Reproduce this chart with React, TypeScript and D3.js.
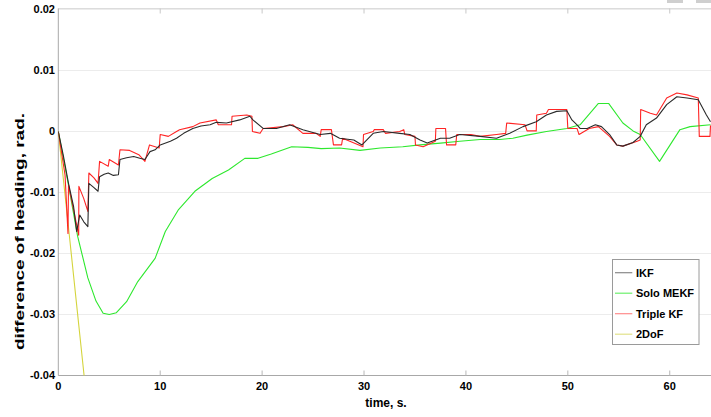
import React from 'react';
import * as d3 from 'd3';

type Pt = [number, number];

// values, [time s, heading difference rad]
const ikfData: Pt[] = [
  [0, 0], [0.5, -0.004], [1, -0.0085], [1.5, -0.0123], [1.8, -0.0164], [2.1, -0.0137], [2.5, -0.0148],
  [2.9, -0.0156], [3.0, -0.0085], [3.5, -0.0092], [3.9, -0.0098], [4.05, -0.0074], [4.5, -0.007],
  [4.9, -0.0068], [5.4, -0.0072], [5.9, -0.0071], [6.05, -0.0046], [6.7, -0.0043], [7.4, -0.0041],
  [8, -0.0044], [8.5, -0.0046], [9, -0.0033], [9.5, -0.003], [10, -0.0022], [11, -0.0016],
  [11.6, -0.0011], [12.3, -0.0003], [13.2, 0.0005], [14, 0.0009], [14.9, 0.0011], [15.5, 0.0015],
  [16.5, 0.0014], [17.8, 0.0019], [18.8, 0.0025], [19.1, 0.0019], [20.1, 0.0005], [21.4, 0.0005],
  [22.7, 0.0011], [24, 0.0003], [25.7, -0.0005], [26.7, -0.0003], [27.6, -0.0011], [29, -0.0014],
  [29.8, -0.0022], [30.9, -0.0003], [31.9, 0], [33.5, -0.0003], [34.5, -0.0005], [35.5, -0.0014],
  [36.2, -0.0019], [37.5, -0.0011], [38.4, -0.0011], [39.4, -0.0005], [41.4, -0.0008], [43, -0.0011],
  [44.3, -0.0003], [45.6, 0.0008], [46.9, 0.0016], [47.9, 0.0027], [48.9, 0.0033], [49.9, 0.0034],
  [50.4, 0.0019], [50.9, 0.0011], [51.2, 0.0005], [51.9, 0.0005], [52.7, 0.0011], [53.3, 0.0008],
  [54.1, -0.0005], [54.8, -0.0022], [55.4, -0.0024], [56.4, -0.0018], [57.1, -0.0008], [57.7, 0.0011],
  [58.7, 0.0022], [59.7, 0.0044], [60.7, 0.0057], [61.7, 0.0055], [62.8, 0.0052], [63.6, 0.0027],
  [64, 0.0016],
];

const soloMekfData: Pt[] = [
  [0, 0], [1, -0.0088], [1.9, -0.0172], [2.9, -0.024], [3.7, -0.0278], [4.4, -0.0298], [5, -0.03],
  [5.7, -0.0297], [6.7, -0.0279], [7.8, -0.0246], [9.5, -0.0208], [10.5, -0.0164], [11.8, -0.0128],
  [13.4, -0.0098], [15.1, -0.0077], [16.7, -0.0063], [18.3, -0.0044], [19.6, -0.0044], [20.9, -0.0037],
  [22.9, -0.0025], [24.5, -0.0026], [25.8, -0.0028], [27.6, -0.0027], [29.6, -0.0031], [31.6, -0.0027],
  [33.8, -0.0025], [35.5, -0.0022], [37.5, -0.0019], [39.4, -0.0016], [41.4, -0.0013], [43.3, -0.0013],
  [44.6, -0.0011], [46, -0.0006], [47.9, 0], [49.9, 0.0005], [51.2, 0.0011], [53, 0.0046], [54, 0.0046],
  [55.4, 0.0014], [56.4, 0.0001], [57.1, -0.0005], [59, -0.0049], [61, 0.0003], [62, 0.0008], [64, 0.0011],
];

const tripleKfData: Pt[] = [
  [0, 0], [0.66, -0.0071], [0.95, -0.0167], [1.0, -0.0088], [1.5, -0.0128], [2.0, -0.017], [2.02, -0.009],
  [2.5, -0.011], [2.9, -0.0131], [3.0, -0.0068], [3.5, -0.0076], [3.9, -0.0085], [4.05, -0.0049],
  [4.9, -0.0057], [5.0, -0.0046], [5.9, -0.0055], [6.05, -0.003], [7, -0.0031], [7.9, -0.0038],
  [8.5, -0.0049], [8.95, -0.0022], [9.9, -0.0027], [10, -0.0005], [10.8, -0.0008], [11.6, 0],
  [11.9, 0.0003], [13.2, 0.0008], [13.9, 0.0014], [15.5, 0.0019], [15.7, 0.0011], [17, 0.0011],
  [17.05, 0.0025], [18.5, 0.0027], [19, 0.0025], [19.05, 0], [19.8, -0.0003], [20.1, 0.0005],
  [22.1, 0.0008], [23, 0.0011], [24, -0.0003], [25.3, -0.0003], [25.7, -0.0008], [25.8, 0.0003],
  [26.8, 0.0003], [27, -0.0022], [27.8, -0.0022], [27.9, -0.0011], [29.9, -0.0025], [29.95, -0.0005],
  [30.9, 0], [31, 0.0003], [31.9, 0.0003], [32.1, -0.0003], [33.5, 0], [33.9, 0.0003], [34, -0.0005],
  [35, -0.0008], [35.05, -0.0022], [35.8, -0.0025], [37, -0.0016], [37.05, 0.0005], [38, 0.0005],
  [38.1, -0.0022], [39, -0.0022], [39.1, -0.0005], [40.5, -0.0005], [41.4, -0.0008], [43, -0.0005],
  [43.9, -0.0003], [44, 0.0014], [45.8, 0.0011], [46, 0.0001], [46.9, 0.0001], [46.95, 0.0027],
  [47.9, 0.003], [48.1, 0.0036], [49.9, 0.0036], [50, 0.0005], [50.9, 0.0005], [51.1, -0.0005],
  [52.1, 0.0005], [53, 0.0008], [54.1, -0.0008], [54.8, -0.0022], [55.4, -0.0024], [56.8, -0.0016],
  [57.1, -0.0014], [57.15, 0.0036], [58.1, 0.003], [58.7, 0.0027], [59.7, 0.0055], [60.7, 0.0063],
  [61.7, 0.006], [62.8, 0.0055], [62.9, -0.0008], [63.95, -0.0008], [64, 0.001],
];

const twoDofData: Pt[] = [[0, 0], [1, -0.0157], [2, -0.0316], [2.6, -0.0411]];

const xTicks = [0, 10, 20, 30, 40, 50, 60];
const yTicks = [0.02, 0.01, 0, -0.01, -0.02, -0.03, -0.04];
const yTickLabels = ['0.02', '0.01', '0', '-0.01', '-0.02', '-0.03', '-0.04'];

const series = [
  { name: 'IKF', data: ikfData, color: '#2a2a2a', legend: '#8a8a8a' },
  { name: 'Solo MEKF', data: soloMekfData, color: '#2ee82e', legend: '#6cf06c' },
  { name: 'Triple KF', data: tripleKfData, color: '#ff2424', legend: '#ff8c8c' },
  { name: '2DoF', data: twoDofData, color: '#d4d43c', legend: '#e2e28a' },
];

const W = 711;
const H = 417;
const left = 58.3;
const right = 710.5;
const top = 9.5;
const bottom = 375.5;

const font = '"Liberation Sans", Arial, sans-serif';

export default function App() {
  const x = d3.scaleLinear().domain([0, 64]).range([left, right]);
  const y = d3.scaleLinear().domain([-0.04, 0.02]).range([bottom, top]);
  const line = d3.line<Pt>().x(d => x(d[0])).y(d => y(d[1]));

  // draw order: 2DoF under, then green, red, black on top
  const drawOrder = [series[3], series[1], series[2], series[0]];

  return (
    <svg width={W} height={H} style={{ position: 'absolute', left: 0, top: 0, background: '#fff' }}
      fontFamily={font}>
      <defs>
        <clipPath id="plot">
          <rect x={left} y={top - 1} width={right - left + 1} height={bottom - top + 1} />
        </clipPath>
      </defs>

      {/* small grey marks at top right of the original */}
      <rect x={667} y={0} width={16} height={3} fill="#cfcfcf" />
      <rect x={696} y={0} width={15} height={3} fill="#cfcfcf" />

      {/* grid */}
      {yTicks.map(t => (
        <line key={'g' + t} x1={left} x2={W} y1={y(t)} y2={y(t)} stroke="#ececec" strokeWidth={1} />
      ))}

      {/* frame */}
      <line x1={left} x2={W} y1={top - 1} y2={top - 1} stroke="#dcdcdc" />
      <line x1={left} x2={left} y1={top - 1} y2={bottom} stroke="#a8a8a8" />
      <line x1={left} x2={W} y1={bottom} y2={bottom} stroke="#a8a8a8" />

      {/* x ticks */}
      {xTicks.map(t => (
        <g key={'x' + t}>
          {t > 0 && <line x1={x(t)} x2={x(t)} y1={bottom} y2={bottom - 5} stroke="#b8b8b8" />}
          {t > 0 && <line x1={x(t)} x2={x(t)} y1={top - 1} y2={top + 4} stroke="#c8c8c8" />}
          <text x={x(t)} y={389.5} textAnchor="middle" fontSize={11} fontWeight="bold" fill="#000">
            {t}
          </text>
        </g>
      ))}

      {/* y tick labels */}
      {yTicks.map((t, i) => (
        <text key={'y' + t} x={55} y={y(t) + 3.9} textAnchor="end" fontSize={11} fontWeight="bold" fill="#000">
          {yTickLabels[i]}
        </text>
      ))}

      {/* series */}
      <g clipPath="url(#plot)" fill="none">
        {drawOrder.map(s => (
          <path key={s.name} d={line(s.data) ?? ''} stroke={s.color} strokeWidth={1.1} strokeLinejoin="round" />
        ))}
      </g>

      {/* axis titles */}
      <text x={386} y={407} textAnchor="middle" fontSize={12} fontWeight="bold" fill="#000">time, s.</text>
      <text transform="translate(24,231.5) rotate(-90)" textAnchor="middle" fontSize={12} fontWeight="bold"
        fill="#000" textLength={237} lengthAdjust="spacingAndGlyphs">
        difference of heading, rad.
      </text>

      {/* legend */}
      <rect x={612.5} y={259.5} width={86.5} height={85} fill="#fff" stroke="#9a9a9a" strokeWidth={1} />
      {series.map((s, i) => {
        const ly = 272.7 + i * 20.5;
        return (
          <g key={'l' + s.name}>
            <line x1={615} x2={632.3} y1={ly} y2={ly} stroke={s.legend} strokeWidth={1.2} />
            <text x={636} y={ly + 3.8} fontSize={11} fontWeight="bold" fill="#000">{s.name}</text>
          </g>
        );
      })}
    </svg>
  );
}
